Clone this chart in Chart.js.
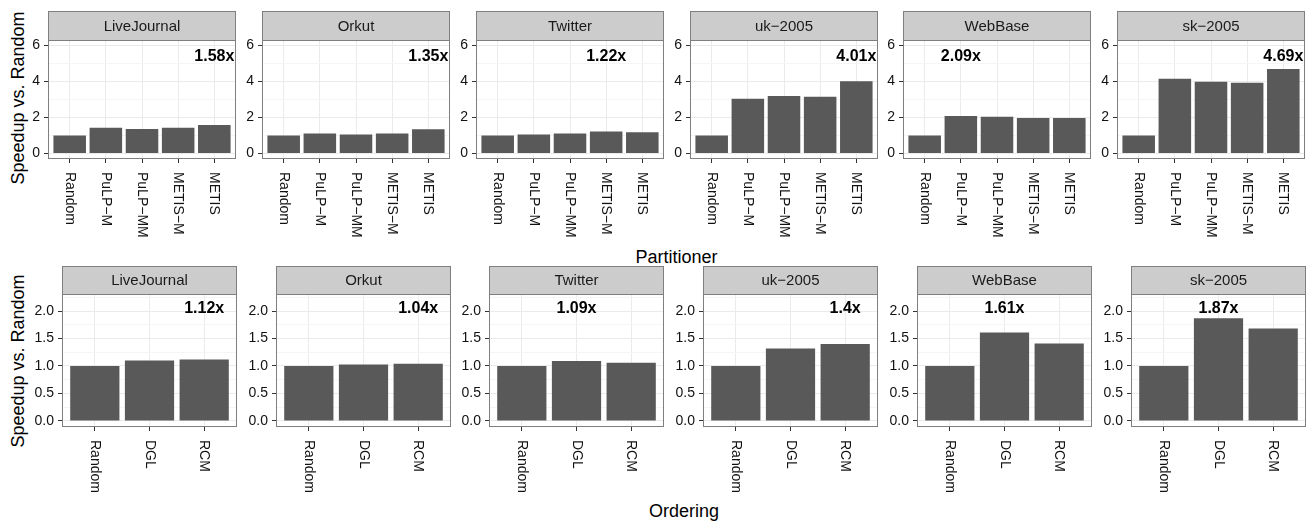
<!DOCTYPE html>
<html lang="en"><head><meta charset="UTF-8">
<title>Speedup vs. Random</title>
<script src="https://cdn.jsdelivr.net/npm/chart.js@4/dist/chart.umd.min.js"></script>
<style>
*{margin:0;padding:0;box-sizing:border-box}
body{width:1306px;height:523px;overflow:hidden;position:relative;background:#fff;font-family:"Liberation Sans",Arial,Helvetica,sans-serif;color:#000}
canvas{position:absolute}
.title{position:absolute;font-size:18px;line-height:18px;height:18px;white-space:nowrap}
.ytitle{position:absolute;font-size:18px;line-height:18px;white-space:nowrap;transform:translate(-50%,-50%) rotate(-90deg)}
</style></head><body>
<div class="ytitle" style="left:18.4px;top:98px">Speedup vs. Random</div>
<div class="ytitle" style="left:18.4px;top:361px">Speedup vs. Random</div>
<div class="title" id="t1" style="top:248px">Partitioner</div>
<div class="title" id="t2" style="top:502px">Ordering</div>
<script>
// facets
const graphs = ['LiveJournal', 'Orkut', 'Twitter', 'uk\u22122005', 'WebBase', 'sk\u22122005'];

// top row: partitioners
const partitioners = ['Random', 'PuLP\u2212M', 'PuLP\u2212MM', 'METIS\u2212M', 'METIS'];
const partSpeedup = [
  [1.00, 1.43, 1.36, 1.43, 1.58],
  [1.00, 1.11, 1.06, 1.12, 1.35],
  [1.00, 1.06, 1.11, 1.22, 1.18],
  [1.00, 3.04, 3.20, 3.15, 4.01],
  [1.00, 2.09, 2.04, 1.98, 1.98],
  [1.00, 4.15, 3.99, 3.93, 4.69]
];
const partLabels = ['1.58x', '1.35x', '1.22x', '4.01x', '2.09x', '4.69x'];
const partTicks = [0, 1, 2, 3, 4, 5, 6];

// bottom row: orderings
const orderings = ['Random', 'DGL', 'RCM'];
const orderSpeedup = [
  [1.00, 1.10, 1.12],
  [1.00, 1.025, 1.04],
  [1.00, 1.09, 1.06],
  [1.00, 1.32, 1.40],
  [1.00, 1.61, 1.41],
  [1.00, 1.87, 1.68]
];
const orderLabels = ['1.12x', '1.04x', '1.09x', '1.4x', '1.61x', '1.87x'];
const orderTicks = [0, 0.25, 0.5, 0.75, 1, 1.25, 1.5, 1.75, 2, 2.25];

const AXIS_W = 40;
const FONT = '"Liberation Sans", Arial, Helvetica, sans-serif';

const rows = [
  { cats: partitioners, values: partSpeedup, labels: partLabels, ticks: partTicks,
    yMin: -0.3, yMax: 6.3, labelY: 5.43, lefts: [48, 262, 476, 690, 903, 1117], width: 188,
    top: 11, stripH: 29, plotH: 119, xH: 92,
    major: v => v % 2 === 0, fmt: v => String(v) },
  { cats: orderings, values: orderSpeedup, labels: orderLabels, ticks: orderTicks,
    yMin: -0.11, yMax: 2.31, labelY: 2.07, lefts: [62, 276, 489, 703, 917, 1131], width: 175,
    top: 266, stripH: 28, plotH: 133, xH: 90,
    major: v => Math.abs(v * 2 - Math.round(v * 2)) < 1e-9, fmt: v => v.toFixed(1) }
];

// strip, border, rotated category labels and the max label
const facetPlugin = {
  id: 'facet',
  afterDatasetsDraw(chart, args, o) {
    const { ctx, chartArea: a, scales: { x, y } } = chart;
    const L = Math.round(a.left), T = Math.round(a.top), W = Math.round(a.right) - L, H = Math.round(a.bottom) - T;
    ctx.save();
    ctx.strokeStyle = '#7f7f7f';
    ctx.lineWidth = 1;
    ctx.strokeRect(L + 0.5, T + 0.5, W - 1, H - 1);
    // strip
    ctx.fillStyle = '#cccccc';
    ctx.fillRect(L, T - o.stripH, W, o.stripH);
    ctx.strokeRect(L + 0.5, T - o.stripH + 0.5, W - 1, o.stripH);
    ctx.fillStyle = '#1a1a1a';
    ctx.font = '15px ' + FONT;
    ctx.textAlign = 'center';
    ctx.textBaseline = 'alphabetic';
    ctx.fillText(o.title, L + W / 2, T - o.stripH / 2 + 5.4);
    // category labels, rotated clockwise
    ctx.font = '14px ' + FONT;
    ctx.fillStyle = '#111111';
    ctx.textAlign = 'left';
    ctx.textBaseline = 'middle';
    o.cats.forEach((c, k) => {
      ctx.save();
      ctx.translate(x.getPixelForValue(k + 1), a.bottom + 13);
      ctx.rotate(Math.PI / 2);
      ctx.fillText(c, 0, 0);
      ctx.restore();
    });
    // max speedup label
    const best = o.values.indexOf(Math.max(...o.values));
    ctx.font = 'bold 16px ' + FONT;
    ctx.fillStyle = '#000';
    ctx.textAlign = 'center';
    ctx.textBaseline = 'alphabetic';
    ctx.fillText(o.label, x.getPixelForValue(best + 1), y.getPixelForValue(o.labelY) + 5.7);
    ctx.restore();
  }
};

rows.forEach(row => {
  graphs.forEach((g, i) => {
    const cv = document.createElement('canvas');
    const w = AXIS_W + row.width, h = row.stripH + row.plotH + row.xH;
    cv.width = w; cv.height = h;
    cv.style.left = (row.lefts[i] - AXIS_W) + 'px';
    cv.style.top = row.top + 'px';
    cv.style.width = w + 'px';
    cv.style.height = h + 'px';
    document.body.appendChild(cv);
    const vals = row.values[i];
    new Chart(cv, {
      type: 'bar',
      data: {
        datasets: [{
          data: vals.map((v, k) => ({ x: k + 1, y: v })),
          backgroundColor: '#595959',
          borderWidth: 0,
          barPercentage: 0.9,
          categoryPercentage: 1
        }]
      },
      options: {
        responsive: false,
        animation: false,
        layout: { padding: { top: row.stripH, left: 0, right: 0, bottom: 0 } },
        plugins: {
          legend: { display: false },
          tooltip: { enabled: false },
          facet: { title: g, stripH: row.stripH, cats: row.cats, values: vals, label: row.labels[i], labelY: row.labelY }
        },
        scales: {
          x: {
            type: 'linear', min: 0.4, max: row.cats.length + 0.6,
            offset: false,
            afterBuildTicks: s => { s.ticks = row.cats.map((c, k) => ({ value: k + 1 })); },
            afterFit: s => { s.height = row.xH; },
            ticks: { display: false },
            border: { display: false },
            grid: { offset: false, color: '#ebebeb', lineWidth: 1, tickColor: '#333333', tickLength: 4 }
          },
          y: {
            min: row.yMin, max: row.yMax,
            afterBuildTicks: s => { s.ticks = row.ticks.map(v => ({ value: v })); },
            afterFit: s => { s.width = AXIS_W; },
            ticks: {
              padding: 4, color: '#111111', font: { family: FONT, size: 14 },
              autoSkip: false,
              callback: v => row.major(v) ? row.fmt(v) : ''
            },
            border: { display: false },
            grid: {
              color: c => row.major(c.tick.value) ? '#ebebeb' : '#f5f5f5',
              tickColor: c => row.major(c.tick.value) ? '#333333' : 'rgba(0,0,0,0)',
              lineWidth: 1, tickLength: 4
            }
          }
        }
      },
      plugins: [facetPlugin]
    });
  });
});

// axis titles centred on the panel block of each row
function centre(id, row) {
  const el = document.getElementById(id);
  const mid = (row.lefts[0] + row.lefts[5] + row.width) / 2;
  el.style.left = (mid - el.offsetWidth / 2) + 'px';
}
centre('t1', rows[0]);
centre('t2', rows[1]);
</script>
</body></html>
